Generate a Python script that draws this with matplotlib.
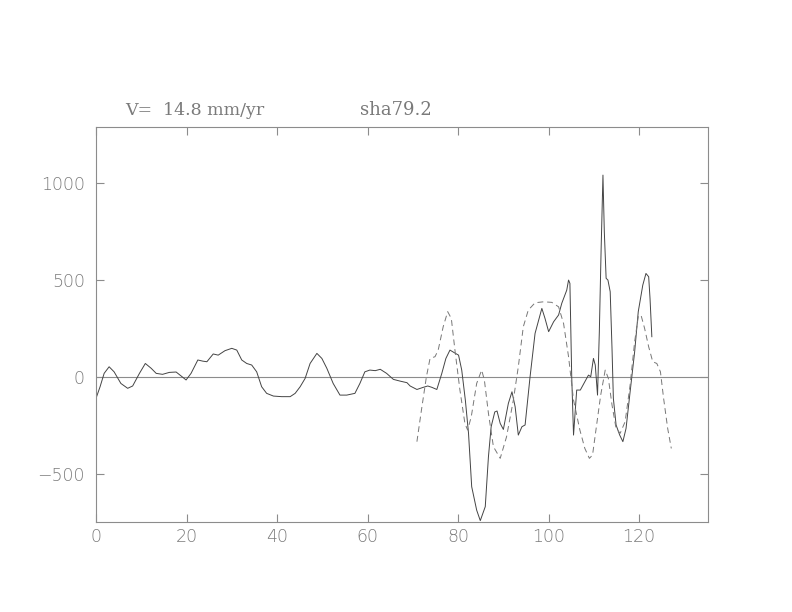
import matplotlib

matplotlib.use("Agg")

import matplotlib.pyplot as plt

# solid trace (distance, value)
solid_x = [0.0, 0.9, 1.8, 2.9, 4.0, 5.5, 7.0, 8.1, 9.6, 10.9, 12.2, 13.3, 14.7, 16.2,
           17.7, 19.0, 19.9, 21.0, 22.5, 23.6, 24.5, 25.9, 27.0, 28.5, 30.0, 31.1,
           32.2, 33.3, 34.4, 35.5, 36.6, 37.7, 39.2, 41.0, 42.9, 44.0, 45.1, 46.2,
           47.3, 48.8, 49.9, 51.0, 52.4, 53.9, 55.4, 57.2, 58.3, 59.4, 60.5, 61.7,
           62.8, 64.2, 65.7, 67.2, 68.7, 69.4, 70.9, 72.3, 73.3, 74.2, 75.3, 76.4,
           77.3, 78.2, 79.2, 80.1, 80.8, 81.6, 82.3, 83.0, 84.1, 84.9, 86.0, 86.7,
           87.3, 88.1, 88.6, 89.3, 90.0, 91.1, 91.9, 92.6, 93.3, 94.1, 94.8, 95.9,
           97.0, 98.5, 99.2, 100.0, 101.1, 102.2, 102.9, 104.0, 104.4, 104.7, 105.1,
           105.5, 106.2, 107.0, 108.0, 108.8, 109.3, 109.9, 110.3, 110.8, 111.2,
           111.6, 112.0, 112.3, 112.7, 113.1, 113.6, 114.0, 114.3, 114.9, 115.7,
           116.4, 117.1, 118.0, 119.0, 119.8, 120.8, 121.5, 122.1, 122.4, 122.8]
solid_y = [-110, -50, 19, 53, 27, -33, -58, -46, 19, 70, 45, 19, 14, 24,
           26, 2, -15, 19, 88, 82, 79, 119, 113, 136, 148, 139,
           88, 70, 62, 27, -50, -84, -98, -101, -101, -84, -50, -7,
           70, 122, 96, 45, -33, -93, -93, -84, -33, 27, 36, 33,
           40, 19, -12, -21, -29, -46, -64, -53, -46, -53, -64, 19,
           96, 139, 125, 113, 36, -119, -290, -565, -686, -740, -668, -411,
           -256, -180, -175, -239, -270, -136, -76, -153, -299, -256, -247, 2,
           225, 354, 302, 234, 285, 320, 380, 448, 500, 483, 2,
           -299, -67, -67, -24, 10, 2, 96, 62, -93, 234,
           663, 1041, 749, 509, 500, 440, 148, -110, -247, -299,
           -333, -265, -76, 130, 337, 474, 534, 517, 405, 208]

# dashed trace
dash_x = [70.9, 71.9, 73.0, 73.8, 74.9, 75.6, 76.7, 77.7, 78.5, 79.3, 80.4, 81.5,
          82.1, 82.9, 84.1, 85.2, 85.8, 86.7, 87.8, 89.3, 90.7, 92.2, 93.3, 94.4,
          95.5, 97.0, 98.9, 100.7, 102.2, 103.3, 104.4, 105.5, 106.9, 108.0, 109.0,
          109.7, 110.6, 111.5, 112.5, 113.2, 114.0, 114.9, 115.8, 116.9, 118.0,
          119.0, 119.8, 120.4, 121.2, 122.1, 123.0, 123.9, 124.7, 125.4, 126.3,
          127.1]
dash_y = [-333, -170, 2, 96, 105, 139, 259, 337, 302, 139, -67, -239,
          -273, -205, -33, 36, -15, -187, -359, -419, -308, -119, 53, 259,
          345, 383, 388, 385, 362, 276, 105, -119, -273, -368, -419,
          -402, -247, -93, 36, -7, -144, -265, -290, -230, -41,
          182, 311, 320, 251, 156, 79, 70, 27, -110, -265,
          -368]

x_ticks = [0, 20, 40, 60, 80, 100, 120]
y_ticks = [-500, 0, 500, 1000]

GREY = "#8c8c8c"
TEXT = "#7a7a7a"

fig = plt.figure(figsize=(7.92, 6.12), dpi=100)
ax = fig.add_axes([0.1212, 0.1471, 0.7727, 0.6454])

ax.axhline(0, color=GREY, lw=0.8)
ax.plot(solid_x, solid_y, color="#444444", lw=0.7)
ax.plot(dash_x, dash_y, color="#777777", lw=0.7, ls=(0, (6, 4)))

ax.set_xlim(0, 135.2)
ax.set_ylim(-747, 1289)
ax.set_xticks(x_ticks)
ax.set_yticks(y_ticks)
ax.set_xticklabels([str(v) for v in x_ticks])
ax.set_yticklabels(["\u2212500", "0", "500", "1000"])

for side in ax.spines.values():
    side.set_color(GREY)
    side.set_linewidth(0.8)
ax.tick_params(direction="in", length=6, width=0.8, color=GREY,
               top=True, right=True, labelcolor=TEXT, labelsize=12.5)
ax.tick_params(axis="y", pad=8)
ax.tick_params(axis="x", pad=4)
for lab in ax.get_xticklabels() + ax.get_yticklabels():
    lab.set_fontweight("light")

fig.text(0.158, 0.812, "V=  14.8 mm/yr", fontsize=12.5, color=TEXT,
         family="DejaVu Serif", fontweight="light")
fig.text(0.455, 0.812, "sha79.2", fontsize=13, color=TEXT,
         family="DejaVu Serif", fontweight="light")

fig.savefig("out.png", dpi=100, facecolor="white")
plt.close(fig)
